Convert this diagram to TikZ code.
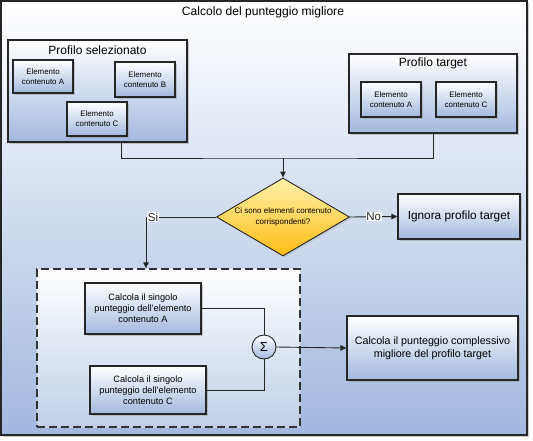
\documentclass[tikz,border=0pt]{standalone}
\usepackage{fontspec}
\setmainfont{Liberation Sans}
\usepackage{tikz}
\usetikzlibrary{arrows.meta,positioning,shadows,shapes.geometric}
\definecolor{bluefondo}{RGB}{163,184,223}
\definecolor{blufondo2}{RGB}{192,207,232}
\definecolor{gialloA}{RGB}{255,242,170}
\definecolor{gialloB}{RGB}{255,188,20}

\begin{document}
\begin{tikzpicture}[x=1pt,y=-1pt,
  scatola/.style={draw=black!85,line width=1.1pt,top color=white,bottom color=bluefondo,
    drop shadow={shadow xshift=1.5pt,shadow yshift=-1.5pt,fill=black!40},align=center,inner sep=1pt},
  piccola/.style={scatola,minimum width=60pt,font=\fontsize{7.9}{10}\selectfont},
  linea/.style={line width=0.9pt,black!85},
  freccia/.style={linea,-{Triangle[length=6pt,width=5.5pt]}}]
\useasboundingbox (0,0) rectangle (533,440);
%cornice esterna
\node[scatola,minimum width=526pt,minimum height=434pt] (cornice) at (264,218) {};
\node (titolo) at (263,12) {\fontsize{12.1}{14}\selectfont Calcolo del punteggio migliore};
%profilo selezionato
\node[scatola,minimum width=179pt,minimum height=102pt] (sel) at (97.5,91) {};
\node (selT) at (97.5,50) {\fontsize{12}{14}\selectfont Profilo selezionato};
\node[piccola,minimum height=33pt] (selA) at (43,76.5) {Elemento\\contenuto A};
\node[piccola,minimum height=35pt] (selB) at (145,79.5) {Elemento\\contenuto B};
\node[piccola,minimum height=34pt] (selC) at (97,119) {Elemento\\contenuto C};
%profilo target
\node[scatola,minimum width=168pt,minimum height=79pt] (tgt) at (433,93.5) {};
\node (tgtT) at (433,63) {\fontsize{12}{14}\selectfont Profilo target};
\node[piccola,minimum height=35pt] (tgtA) at (391,99.5) {Elemento\\contenuto A};
\node[piccola,minimum height=35pt] (tgtC) at (466,99.5) {Elemento\\contenuto C};
%domanda
\node[draw=black!85,line width=0.9pt,shape=diamond,aspect=1.7,inner sep=0pt,
  minimum width=133pt,minimum height=78pt,top color=gialloA,bottom color=gialloB,
  drop shadow={shadow xshift=1.5pt,shadow yshift=-1.5pt,fill=black!30},align=center,
  font=\fontsize{8}{10.5}\selectfont] (dom) at (283,217) {Ci sono elementi contenuto\\corrispondenti?};
\node[scatola,minimum width=122pt,minimum height=45pt,font=\fontsize{11.8}{14}\selectfont] (ign) at (459,216.5) {Ignora profilo target};
%gruppo tratteggiato
\node[draw=black!80,line width=1.4pt,dash pattern=on 8pt off 4pt,top color=white,bottom color=blufondo2,
  minimum width=263pt,minimum height=158pt] (gruppo) at (168.5,348) {};
\node[scatola,minimum width=116pt,minimum height=51pt,font=\fontsize{9.2}{11}\selectfont] (calA) at (143,308.5) {Calcola il singolo\\punteggio dell'elemento\\contenuto A};
\node[scatola,minimum width=116pt,minimum height=48pt,font=\fontsize{9.2}{11}\selectfont] (calC) at (148,390) {Calcola il singolo\\punteggio dell'elemento\\contenuto C};
\node[draw=black!85,line width=0.9pt,circle,minimum size=24pt,inner sep=0pt,top color=white,bottom color=bluefondo,
  font=\fontsize{13}{14}\selectfont] (somma) at (264,347) {Σ};
\node[scatola,minimum width=171pt,minimum height=64pt,font=\fontsize{10.7}{12.5}\selectfont] (tot) at (432.5,348) {Calcola il punteggio complessivo\\migliore del profilo target};
%collegamenti
\coordinate (nodo) at (283,158);
\draw[linea] ([xshift=23.5pt]sel.south) |- (nodo) -| (tgt.south);
\draw[freccia] (nodo) -- (dom.north);
\draw[freccia] (dom.east) -- node[fill=white,inner sep=0.5pt,font=\fontsize{11.5}{13}\selectfont] (no) {No} (ign.west);
\coordinate (svolta) at (146,217);
\draw[linea] (dom.west) -- node[pos=0.9,fill=white,inner sep=0.5pt,font=\fontsize{11.5}{13}\selectfont] (si) {Si} (svolta);
\draw[freccia] (svolta) -- (svolta |- gruppo.north);
\draw[linea] (calA.east) -| (somma.north);
\draw[linea] (calC.east) -| (somma.south);
\draw[freccia] (somma.east) -- (tot.west);
\end{tikzpicture}
\end{document}
